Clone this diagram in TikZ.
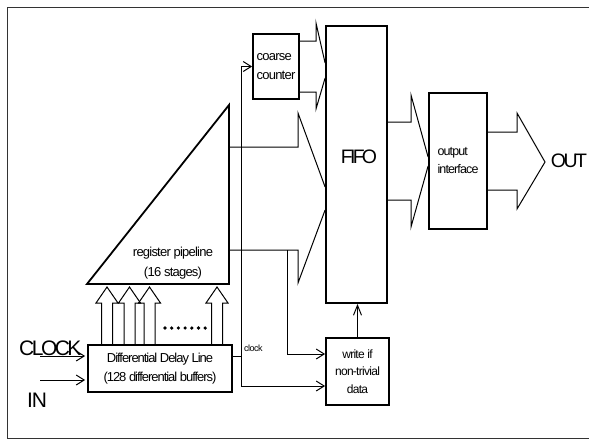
\documentclass[tikz,border=0pt]{standalone}
\usepackage{fontspec}
\setmainfont{Liberation Sans}
\usetikzlibrary{arrows.meta,calc}
\newcommand{\fs}[3]{\fontsize{#1}{#2}\selectfont\addfontfeature{LetterSpace=#3}}
\begin{document}
\begin{tikzpicture}[x=1pt,y=-1pt,
  box/.style={draw=black,line width=1.8pt,fill=white,inner sep=0pt,minimum width=#1},
  conn/.style={line width=1pt},
  blk/.style={line width=1pt,line join=miter},
  barb/.style={-{Straight Barb[length=8pt,width=10pt,line width=1pt]}},
  sbarb/.style={-{Straight Barb[length=10pt,width=8pt,line width=1pt]}},
  lbl/.style={inner sep=0pt,align=center}
]
\useasboundingbox (0,0) rectangle (589,440);
% frame (right edge lies outside the picture)
\draw[line width=1pt,draw=black!80] (589,7) -- (7,7) -- (7,438) -- (589,438);

% boxes
\node[box=46pt,minimum height=65pt,align=left,font={\fs{13}{19}{-6}}] (cc) at (276,66.5) {coarse\\counter};
\node[box=61pt,minimum height=277pt] (fifo) at (356.5,164.5) {};
\node[lbl,font={\fs{19.5}{22}{-14}}] (fifotxt) at (359,157) {FIFO};
\node[box=58pt,minimum height=136pt,align=left,font={\fs{12.5}{18}{-7}}] (oi) at (458,161) {output\\interface};
\node[box=63pt,minimum height=67pt,align=center,font={\fs{12}{17.5}{-6}}] (wr) at (357.5,371.5) {write if\\non-trivial\\data};
\node[box=144pt,minimum height=47pt,align=center,font={\fs{13}{19}{-8}}] (dl) at (160,368.5) {Differential Delay Line\\(128 differential buffers)};

% triangle register pipeline
\coordinate (tt) at (229,105);
\coordinate (tbr) at (229,284);
\coordinate (tbl) at (87,284);
\draw[line width=1.8pt,line join=miter] (tt) -- (tbr) -- (tbl) -- cycle;
\node[lbl,font={\fs{13}{20}{-6}}] (rp) at (173,263) {register pipeline\\(16 stages)};

% up arrows from delay line to pipeline
\foreach \cx in {107,129.5,149.5,217}{
  \draw[blk] (\cx-5.5,345) -- (\cx-5.5,303) -- (\cx-11,303) -- (\cx,287) -- (\cx+11,303) -- (\cx+5.5,303) -- (\cx+5.5,345);
}
\foreach \i in {0,...,6}{
  \fill (165+\i*6.7,328) circle (1.8pt);
}

% inputs
\coordinate (clkin) at (40,356);
\coordinate (inin) at (40,380);
\draw[conn,barb,shorten >=2pt] (clkin) -- (clkin -| dl.west);
\draw[conn,barb,shorten >=2pt] (inin) -- (inin -| dl.west);
\node[anchor=base west,inner sep=0pt,font={\fs{21}{24}{-12}}] (clocklbl) at (19,355) {CLOCK};
\node[anchor=base west,inner sep=0pt,font={\fs{21}{24}{-6}}] (inlbl) at (27,407) {IN};

% clock distribution
\coordinate (clk) at (241,356);
\coordinate (clkbot) at (241,386);
\draw[conn] (dl.east |- clk) -- (clk);
\draw[conn,barb] (clk) |- (cc.west);
\draw[conn,barb] (clk) -- (clkbot) -- (clkbot -| wr.west);
\node[anchor=base west,inner sep=0pt,font={\fs{9}{10}{-6}}] (clklbl) at (244,351) {clock};

% pipeline -> FIFO block arrow
\coordinate (pa1) at (298,147);
\coordinate (pa2) at (298,250);
\draw[blk] (tbr |- pa1) -- (pa1) -- (298,113) -- (fifo.west |- 0,187);
\draw[blk] (fifo.west |- 0,210) -- (298,283) -- (pa2) -- (tbr |- pa2);
% data tap to write box
\coordinate (tap) at (287,250);
\coordinate (tapb) at (287,354);
\draw[conn,barb] (tap) -- (tapb) -- (tapb -| wr.west);

% coarse counter -> FIFO
\draw[blk] (cc.east |- 0,41) -- (316,41) -- (316,23) -- (fifo.west |- 0,63);
\draw[blk] (fifo.west |- 0,78) -- (316,109) -- (316,92) -- (cc.east |- 0,92);

% write -> FIFO
\draw[conn,sbarb] (wr.north) -- (wr.north |- fifo.south);

% FIFO -> output interface
\draw[blk] (fifo.east |- 0,122) -- (411,122) -- (411,95) -- (oi.west |- 0,157);
\draw[blk] (oi.west |- 0,166) -- (411,227) -- (411,200) -- (fifo.east |- 0,200);

% output interface -> OUT
\coordinate (tip) at (545,162);
\draw[blk] (oi.east |- 0,132) -- (517,132) -- (517,113) -- (tip) -- (517,209) -- (517,190) -- (oi.east |- 0,190);
\node[lbl,font={\fs{19.5}{22}{-13}}] (outlbl) at (569,161) {OUT};
\end{tikzpicture}
\end{document}
